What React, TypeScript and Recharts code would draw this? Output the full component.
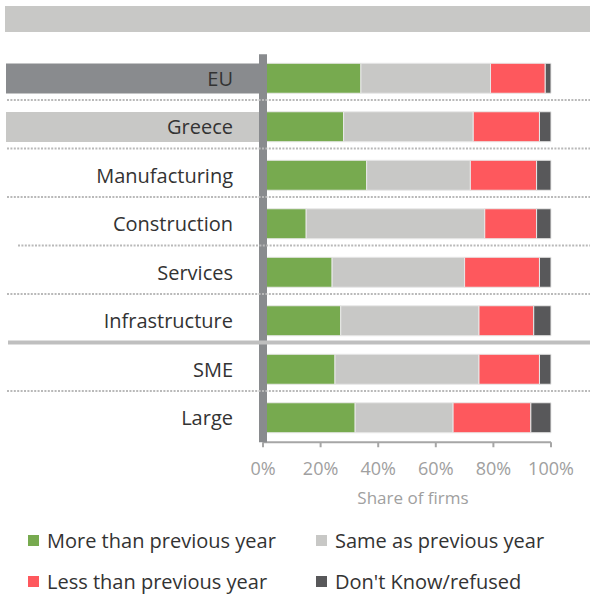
import React from 'react';
import { BarChart, Bar, XAxis, YAxis, Legend } from 'recharts';

const categories = ['EU', 'Greece', 'Manufacturing', 'Construction', 'Services', 'Infrastructure', 'SME', 'Large'];
const moreThanPrev = [34, 28, 36, 15, 24, 27, 25, 32];
const sameAsPrev = [45, 45, 36, 62, 46, 48, 50, 34];
const lessThanPrev = [19, 23, 23, 18, 26, 19, 21, 27];
const dontKnow = [2, 4, 5, 5, 4, 6, 4, 7];
const xTicks = [0, 20, 40, 60, 80, 100];
const seriesKeys = ['more', 'same', 'less', 'dk'];
const seriesNames = ['More than previous year', 'Same as previous year', 'Less than previous year', "Don't Know/refused"];
const seriesColors = ['#77aa4f', '#c8c8c6', '#fe585d', '#58585a'];

const data = categories.map((c, i) => ({
  name: c,
  more: moreThanPrev[i],
  same: sameAsPrev[i],
  less: lessThanPrev[i],
  dk: dontKnow[i],
}));

const FONT = '"Open Sans", sans-serif';

const YTick = (props: any) => {
  const { x, y, payload } = props;
  const v = payload.value;
  const axisX = x + 30;
  let band: string | null = null;
  if (v === 'EU') band = '#898b8e';
  if (v === 'Greece') band = '#c8c8c6';
  const isLast = v === categories[categories.length - 1];
  const thick = v === 'Infrastructure';
  const sepStart = v === 'Construction' ? 18 : 7;
  return (
    <g>
      {band && <rect x={6} y={y - 15} width={axisX - 4 - 6} height={30} fill={band} />}
      <text x={x} y={y} dy="0.36em" textAnchor="end" fontFamily={FONT} fontSize={20} fill="#333333">
        {v}
      </text>
      {!isLast && !thick && (
        <line x1={sepStart} x2={590} y1={y + 21.5} y2={y + 21.5} stroke="#b9b9b9" strokeWidth={2} strokeDasharray="2 1.4" />
      )}
      {thick && <line x1={8} x2={590} y1={y + 21.5} y2={y + 21.5} stroke="#bfbfbf" strokeWidth={4} />}
    </g>
  );
};

const LegendContent = () => (
  <div style={{ position: 'relative', width: 596, height: 80, fontFamily: FONT, fontSize: 20, color: '#333333' }}>
    {seriesNames.map((n, i) => {
      const col = i % 2;
      const row = Math.floor(i / 2);
      return (
        <div
          key={n}
          style={{
            position: 'absolute',
            left: 28 + col * 288,
            top: row * 41,
            height: 36,
            display: 'flex',
            alignItems: 'center',
            whiteSpace: 'nowrap',
          }}
        >
          <span style={{ display: 'inline-block', width: 11, height: 11, background: seriesColors[i], marginRight: 8 }} />
          <span>{n}</span>
        </div>
      );
    })}
  </div>
);

export default function App() {
  return (
    <div style={{ position: 'absolute', left: 0, top: 0, width: 596, height: 597, background: '#fff' }}>
      <BarChart
        width={596}
        height={597}
        data={data}
        layout="vertical"
        margin={{ top: 54.25, right: 45, bottom: 84.75, left: 0 }}
        barSize={30}
      >
        <rect x={5} y={6} width={585} height={26} fill="#c8c8c6" />
        {seriesKeys.map((k, i) => (
          <Bar
            key={k}
            dataKey={k}
            name={seriesNames[i]}
            stackId="a"
            fill={seriesColors[i]}
            stroke="#e8e8e8"
            strokeWidth={1}
            isAnimationActive={false}
          />
        ))}
        <XAxis
          type="number"
          domain={[0, 100]}
          ticks={xTicks}
          tickFormatter={(v: number) => `${v}%`}
          height={70}
          axisLine={{ stroke: '#a6a6a6', strokeWidth: 2 }}
          tickLine={{ stroke: '#a6a6a6', strokeWidth: 2 }}
          tickSize={5}
          tickMargin={15}
          tick={{ fill: '#a0a0a0', fontSize: 18, fontFamily: FONT }}
          interval={0}
          label={{ value: 'Share of firms', position: 'insideBottom', offset: 8, fill: '#a0a0a0', fontSize: 17, fontFamily: FONT, dx: 6 }}
        />
        <YAxis
          type="category"
          dataKey="name"
          width={263}
          axisLine={{ stroke: '#898b8e', strokeWidth: 8 }}
          tickLine={false}
          tickSize={0}
          tickMargin={30}
          tick={<YTick />}
          interval={0}
        />
        <Legend
          content={<LegendContent />}
          layout="horizontal"
          verticalAlign="middle"
          align="center"
          wrapperStyle={{ top: 522, left: 0, width: 596, height: 80 }}
        />
      </BarChart>
    </div>
  );
}
